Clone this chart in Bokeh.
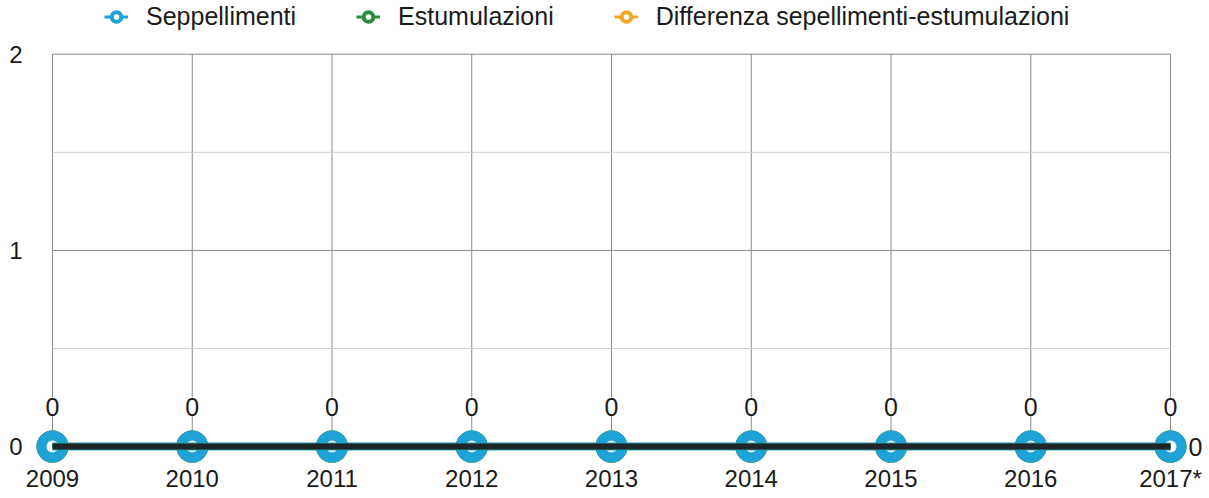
from bokeh.plotting import figure
from bokeh.models import (ColumnDataSource, FixedTicker, Legend, LegendItem,
                          LabelSet, Range1d)
from bokeh.core.properties import value
from bokeh.embed import file_html
from bokeh.resources import INLINE

# ---- data ----
years = [2009, 2010, 2011, 2012, 2013, 2014, 2015, 2016, 2017]
year_labels = ["2009", "2010", "2011", "2012", "2013", "2014", "2015", "2016", "2017*"]
seppellimenti = [0, 0, 0, 0, 0, 0, 0, 0, 0]
estumulazioni = [0, 0, 0, 0, 0, 0, 0, 0, 0]
differenza = [0, 0, 0, 0, 0, 0, 0, 0, 0]
series_names = ["Seppellimenti", "Estumulazioni", "Differenza sepellimenti-estumulazioni"]
y_major = [0, 1, 2]
y_minor = [0.5, 1.5]

FONT = "Liberation Sans"
CYAN = "#1fa2d6"
GREEN = "#2b8a3e"
ORANGE = "#f5a623"
DARK = "#1e2629"
TEXT = "#1a1a1a"

p = figure(width=1209, height=494, output_backend="svg", toolbar_location=None,
           x_range=Range1d(2008.8426, 2017.279), y_range=Range1d(-0.0914, 2.274),
           min_border_left=30, min_border_right=0, min_border_top=0,
           min_border_bottom=0)
p.outline_line_color = None
p.xgrid.visible = False
p.ygrid.visible = False
p.background_fill_color = "white"
p.border_fill_color = "white"

# grid drawn between first and last year / 0 and top value
x0, x1 = years[0], years[-1]
ytop = y_major[-1]
p.segment(x0=years, x1=years, y0=[y_major[0]] * len(years), y1=[ytop] * len(years),
          line_color="#8a8a8a", line_width=1)
p.segment(x0=[x0] * len(y_major), x1=[x1] * len(y_major), y0=y_major, y1=y_major,
          line_color="#8a8a8a", line_width=1)
p.segment(x0=[x0] * len(y_minor), x1=[x1] * len(y_minor), y0=y_minor, y1=y_minor,
          line_color="#d0d0d0", line_width=1)

src = ColumnDataSource(dict(x=years, s=seppellimenti, e=estumulazioni, d=differenza,
                            t=[str(v) for v in seppellimenti]))

# series (all overlapping)
p.scatter("x", "d", source=src, size=22, line_width=10, line_color=ORANGE, fill_color="white")
p.scatter("x", "e", source=src, size=22, line_width=10, line_color=GREEN, fill_color="white")
p.scatter("x", "s", source=src, size=22, line_width=10, line_color=CYAN, fill_color="white")
p.line("x", "s", source=src, line_color=CYAN, line_width=8)
p.line("x", "e", source=src, line_color=GREEN, line_width=6)
p.line("x", "d", source=src, line_color=DARK, line_width=6)

# labels
labels = LabelSet(x="x", y="s", text="t", source=src, y_offset=40,
                  text_align="center", text_baseline="middle",
                  text_font=value(FONT), text_font_size=value("25px"),
                  text_color=value(TEXT), background_fill_color="white")
p.add_layout(labels)
last = ColumnDataSource(dict(x=[years[-1]], y=[differenza[-1]], t=[str(differenza[-1])]))
p.add_layout(LabelSet(x="x", y="y", text="t", source=last, x_offset=25,
                      text_align="center", text_baseline="middle",
                      text_font=value(FONT), text_font_size=value("25px"),
                      text_color=value(TEXT)))

# legend (dummy renderers with thin styling)
nan_src = ColumnDataSource(dict(x=[float("nan")], y=[float("nan")]))
items = []
for name, col in zip(series_names, [CYAN, GREEN, ORANGE]):
    lr = p.line("x", "y", source=nan_src, line_color=col, line_width=3)
    sr = p.scatter("x", "y", source=nan_src, size=10, line_width=4,
                   line_color=col, fill_color="white")
    items.append(LegendItem(label=name, renderers=[lr, sr]))
legend = Legend(items=items, orientation="horizontal", location=(74, 433),
                glyph_width=24, glyph_height=25, label_standoff=18, spacing=60,
                padding=0, margin=0, border_line_color=None,
                background_fill_alpha=0, label_text_font=FONT,
                label_text_font_size="25px", label_text_color=TEXT)
p.add_layout(legend)

# axes
p.xaxis.ticker = FixedTicker(ticks=years)
p.xaxis.major_label_overrides = {y: l for y, l in zip(years, year_labels)}
p.yaxis.ticker = FixedTicker(ticks=y_major)
for ax in (p.xaxis[0], p.yaxis[0]):
    ax.axis_line_color = None
    ax.major_tick_line_color = None
    ax.minor_tick_line_color = None
    ax.major_tick_out = 0
    ax.major_tick_in = 0
    ax.major_label_text_font = FONT
    ax.major_label_text_font_size = "24px"
    ax.major_label_text_color = TEXT
p.xaxis.major_label_standoff = 0
p.yaxis.major_label_standoff = 8

open("out.html", "w").write(file_html(p, INLINE))
